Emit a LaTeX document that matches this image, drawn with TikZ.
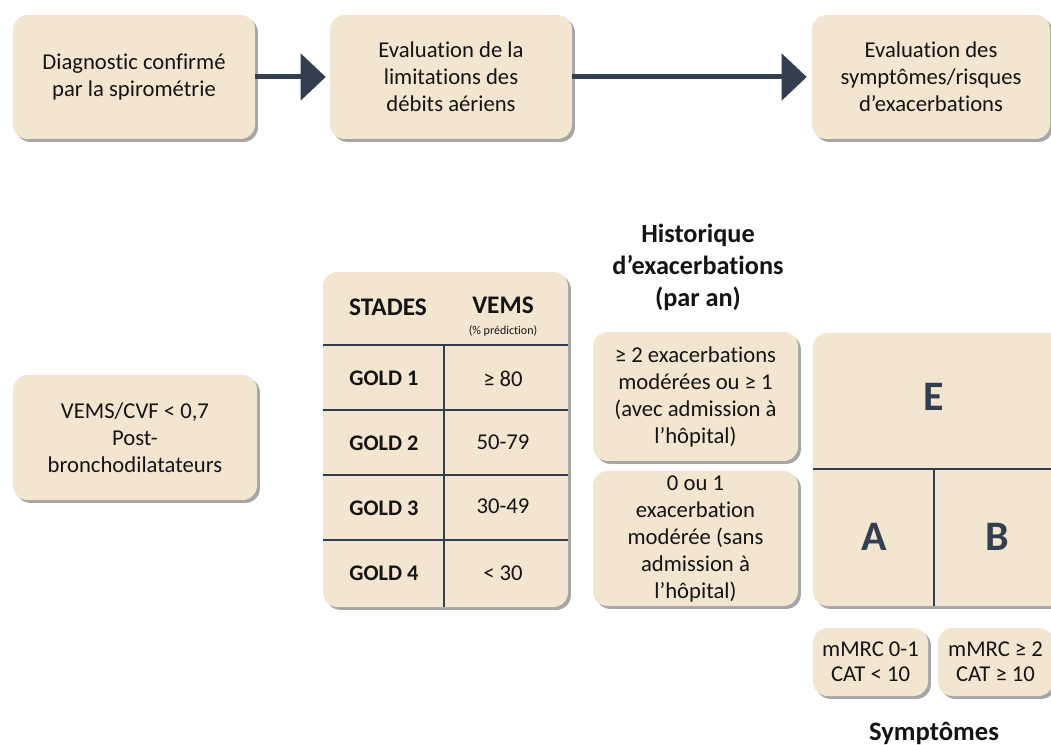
\documentclass[tikz,border=0pt]{standalone}
\usepackage{fontspec}
\setmainfont{Carlito}[Ligatures=NoCommon]
\usetikzlibrary{arrows.meta,shadows}
\definecolor{beige}{HTML}{F2E6D0}
\definecolor{navy}{HTML}{333F50}
\definecolor{ink}{HTML}{141414}
\newcommand\pxu{0.75pt}
\tikzset{
  shad/.style={drop shadow={shadow xshift=2.2pt, shadow yshift=-2.2pt, fill=black, opacity=0.35}},
  card/.style={fill=beige, rounded corners=11pt, shad, align=center, text=ink, inner sep=0pt,
    font=\fontsize{17}{20.25}\selectfont},
  bigarrow/.style={draw=navy, line width=5*\pxu, -{Triangle[length=25*\pxu, width=46*\pxu]}},
  rule/.style={draw=navy, line width=1.4*\pxu},
  bodytxt/.style={text=ink, align=center, inner sep=0pt, font=\fontsize{17}{20.25}\selectfont},
  goldtxt/.style={text=ink, inner sep=0pt, font=\bfseries\fontsize{16.7}{20}\selectfont},
  headtxt/.style={text=ink, inner sep=0pt, font=\bfseries\fontsize{19}{22}\selectfont},
  titletxt/.style={text=ink, align=center, inner sep=0pt, font=\bfseries\fontsize{19.7}{24}\selectfont},
  lettertxt/.style={text=navy, inner sep=0pt, font=\bfseries\fontsize{31.5}{36}\selectfont},
}
\begin{document}
\begin{tikzpicture}[x=0.75pt, y=-0.75pt]
\useasboundingbox (0,0) rectangle (1051,745);

% top row
\node[card, minimum width=242*\pxu, minimum height=124*\pxu] (b1) at (134,77)
  {Diagnostic confirmé\\par la spirométrie};
\node[card, minimum width=242*\pxu, minimum height=124*\pxu] (b2) at (451,77)
  {Evaluation de la\\limitations des\\débits aériens};
\node[card, minimum width=238*\pxu, minimum height=124*\pxu] (b3) at (931,77)
  {Evaluation des\\symptômes/risques\\d’exacerbations};
\draw[bigarrow, shorten >=4*\pxu] (b1.east) -- (b2.west);
\draw[bigarrow, shorten >=5*\pxu] (b2.east) -- (b3.west);

% left box
\node[card, minimum width=244*\pxu, minimum height=125*\pxu] (vb) at (135,437.5)
  {VEMS/CVF < 0,7\\Post-\\bronchodilatateurs};

% table
\path[fill=beige, rounded corners=11pt, shad] (323,272) rectangle (568,607);
\draw[rule] (323,345) -- (568,345);
\draw[rule] (323,410) -- (568,410);
\draw[rule] (323,475) -- (568,475);
\draw[rule] (323,540) -- (568,540);
\draw[rule] (444,345) -- (444,607);
\node[headtxt] (hs) at (388,307) {STADES};
\node[headtxt] (hv) at (503,305) {VEMS};
\node[text=ink, inner sep=0pt, font=\fontsize{9}{10}\selectfont] (hp) at (503,331) {(\% prédiction)};
\node[goldtxt] (g1) at (384,378) {GOLD 1};
\node[goldtxt] (g2) at (384,443) {GOLD 2};
\node[goldtxt] (g3) at (384,508) {GOLD 3};
\node[goldtxt] (g4) at (384,573) {GOLD 4};
\node[bodytxt] (v1) at (503,379) {≥ 80};
\node[bodytxt] (v2) at (503,442) {50-79};
\node[bodytxt] (v3) at (503,506) {30-49};
\node[bodytxt] (v4) at (503,573) {< 30};

% history
\node[titletxt] (ht) at (698,267) {Historique\\d’exacerbations\\(par an)};
\node[card, minimum width=205*\pxu, minimum height=129*\pxu] (h1) at (695.5,396.5)
  {≥ 2 exacerbations\\modérées ou ≥ 1\\(avec admission à\\l’hôpital)};
\node[card, minimum width=205*\pxu, minimum height=135*\pxu] (h2) at (695.5,538.5)
  {\raisebox{-3pt}{\parbox{150pt}{\centering 0 ou 1\\exacerbation\\modérée (sans\\admission à\\l’hôpital)}}};

% grid
\path[fill=beige, rounded corners=11pt, shad] (813,333) rectangle (1080,606);
\draw[rule] (813,469) -- (1080,469);
\draw[rule] (934,469) -- (934,606);
\node[lettertxt] (le) at (934,397) {E};
\node[lettertxt] (la) at (874,537) {A};
\node[lettertxt] (lb) at (997,537) {B};

% symptoms
\node[card, minimum width=115*\pxu, minimum height=68*\pxu, font=\fontsize{17}{19}\selectfont] (s1) at (870.5,662)
  {mMRC 0-1\\CAT < 10};
\node[card, minimum width=115*\pxu, minimum height=68*\pxu, font=\fontsize{17}{19}\selectfont] (s2) at (995.5,662)
  {mMRC ≥ 2\\CAT ≥ 10};
\node[text=ink, inner sep=0pt, font=\bfseries\fontsize{20}{24}\selectfont] (sy) at (934,733) {Symptômes};
\end{tikzpicture}
\end{document}
